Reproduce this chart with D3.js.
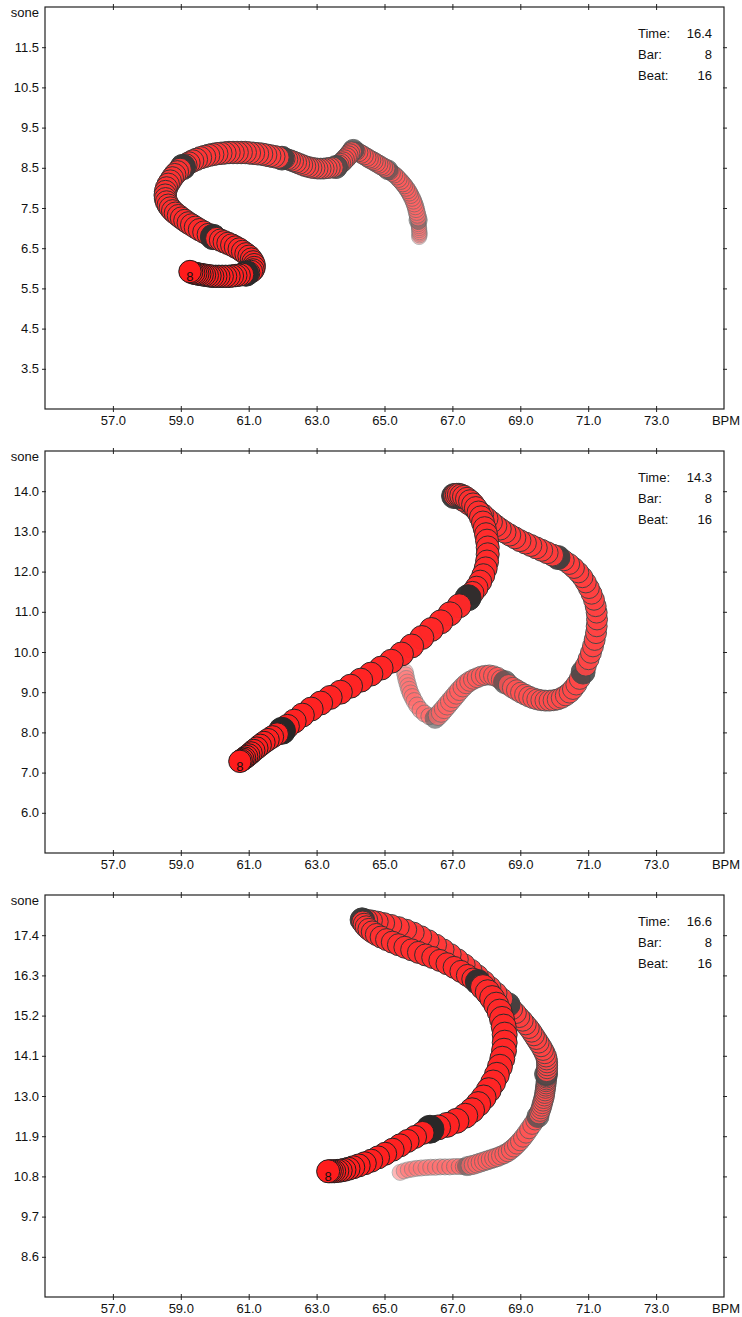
<!DOCTYPE html>
<html>
<head>
<meta charset="utf-8">
<script src="https://cdn.jsdelivr.net/npm/d3@7"></script>
<style>
  body { margin: 0; background: #fff; }
  svg text { font-family: "Liberation Sans", Arial, sans-serif; font-size: 13px; fill: #111; }
</style>
</head>
<body>
<div id="chart"></div>
<script>
// ---- data ----
const xTicks = [57, 59, 61, 63, 65, 67, 69, 71, 73];
const yTicks1 = [3.5, 4.5, 5.5, 6.5, 7.5, 8.5, 9.5, 10.5, 11.5];
const yTicks2 = [6, 7, 8, 9, 10, 11, 12, 13, 14];
const yTicks3 = [8.6, 9.7, 10.8, 11.9, 13.0, 14.1, 15.2, 16.3, 17.4];

const timeVals = ['16.4', '14.3', '16.6'];
const barVals = [8, 8, 8];
const beatVals = [16, 16, 16];

// each trail: one array of [bpm, sone] per beat, tail first; last point of a beat = beat marker
const trail1 = [
  [[66.02,6.78],[66.03,6.82],[66.03,6.86],[66.03,6.90],[66.02,6.95],[66.02,7.00],[66.01,7.05],[66.00,7.10],[66.00,7.15],[65.99,7.20]],
  [[65.99,7.26],[65.97,7.33],[65.95,7.40],[65.93,7.47],[65.91,7.54],[65.88,7.61],[65.85,7.68],[65.81,7.75],[65.77,7.82],[65.73,7.88],[65.69,7.94],[65.64,8.00],[65.59,8.06],[65.54,8.11],[65.48,8.17],[65.42,8.22],[65.36,8.28],[65.29,8.33],[65.22,8.37],[65.16,8.41],[65.10,8.45]],
  [[65.04,8.48],[64.97,8.52],[64.90,8.55],[64.83,8.59],[64.76,8.62],[64.69,8.66],[64.62,8.69],[64.55,8.72],[64.48,8.76],[64.40,8.80],[64.32,8.84],[64.24,8.88],[64.16,8.91],[64.08,8.94]],
  [[64.03,8.90],[63.98,8.85],[63.93,8.80],[63.88,8.75],[63.82,8.70],[63.77,8.65],[63.71,8.61],[63.66,8.57],[63.61,8.54],[63.57,8.52]],
  [[63.48,8.51],[63.39,8.50],[63.30,8.49],[63.21,8.48],[63.12,8.48],[63.03,8.48],[62.94,8.49],[62.85,8.50],[62.76,8.52],[62.67,8.54],[62.58,8.57],[62.49,8.60],[62.40,8.63],[62.31,8.66],[62.22,8.69],[62.14,8.71],[62.06,8.73],[61.98,8.74]],
  [[61.86,8.76],[61.74,8.78],[61.62,8.80],[61.50,8.82],[61.38,8.84],[61.26,8.85],[61.14,8.86],[61.02,8.87],[60.90,8.88],[60.78,8.88],[60.66,8.88],[60.54,8.88],[60.42,8.88],[60.30,8.87],[60.18,8.86],[60.06,8.85],[59.94,8.83],[59.82,8.81],[59.70,8.78],[59.58,8.75],[59.46,8.71],[59.35,8.67],[59.24,8.62],[59.15,8.57],[59.06,8.52]],
  [[58.98,8.46],[58.90,8.40],[58.82,8.33],[58.75,8.25],[58.69,8.17],[58.63,8.09],[58.58,8.00],[58.55,7.91],[58.54,7.82],[58.55,7.73],[58.58,7.65],[58.63,7.57],[58.69,7.50],[58.76,7.43],[58.84,7.37],[58.93,7.31],[59.02,7.25],[59.12,7.19],[59.22,7.13],[59.32,7.08],[59.43,7.02],[59.55,6.96],[59.68,6.90],[59.81,6.84],[59.95,6.78]],
  [[60.06,6.74],[60.17,6.70],[60.28,6.66],[60.39,6.62],[60.50,6.58],[60.61,6.53],[60.72,6.48],[60.82,6.42],[60.92,6.36],[61.01,6.30],[61.08,6.23],[61.13,6.16],[61.16,6.09],[61.16,6.02],[61.13,5.96],[61.08,5.92],[61.00,5.89],[60.92,5.87]],
  [[60.82,5.85],[60.72,5.83],[60.62,5.82],[60.52,5.81],[60.42,5.80],[60.32,5.80],[60.22,5.80],[60.12,5.80],[60.03,5.80],[59.94,5.80],[59.86,5.81],[59.78,5.82],[59.70,5.83],[59.63,5.84],[59.56,5.85],[59.50,5.86],[59.44,5.87],[59.38,5.88],[59.32,5.90],[59.27,5.92]]
];
const level1 = [2, 3, 4, 5, 5.5, 6.5, 6.5, 6.5, 6.5];

const trail2 = [
  [[65.60,9.50],[65.62,9.42],[65.64,9.33],[65.67,9.24],[65.70,9.15],[65.73,9.06],[65.77,8.97],[65.82,8.88],[65.88,8.78],[65.96,8.67],[66.06,8.56],[66.18,8.47],[66.32,8.40],[66.49,8.35]],
  [[66.58,8.42],[66.67,8.50],[66.76,8.59],[66.85,8.68],[66.94,8.77],[67.03,8.86],[67.12,8.95],[67.21,9.04],[67.31,9.13],[67.41,9.21],[67.51,9.27],[67.62,9.32],[67.73,9.36],[67.85,9.40],[67.97,9.42],[68.09,9.43],[68.21,9.41],[68.33,9.37],[68.44,9.31],[68.55,9.25]],
  [[68.66,9.18],[68.78,9.11],[68.90,9.05],[69.02,8.99],[69.14,8.94],[69.26,8.89],[69.38,8.85],[69.50,8.82],[69.62,8.80],[69.74,8.79],[69.86,8.79],[69.98,8.80],[70.10,8.82],[70.22,8.86],[70.34,8.92],[70.45,8.99],[70.55,9.08],[70.65,9.19],[70.75,9.33],[70.85,9.50]],
  [[70.93,9.66],[71.01,9.82],[71.08,9.98],[71.14,10.14],[71.19,10.30],[71.23,10.47],[71.25,10.64],[71.26,10.81],[71.25,10.98],[71.22,11.14],[71.17,11.30],[71.10,11.45],[71.02,11.59],[70.93,11.73],[70.83,11.86],[70.71,11.98],[70.58,12.09],[70.44,12.19],[70.28,12.28],[70.11,12.35]],
  [[69.95,12.41],[69.79,12.47],[69.63,12.53],[69.47,12.59],[69.31,12.65],[69.15,12.71],[68.99,12.77],[68.84,12.84],[68.69,12.91],[68.55,12.98],[68.41,13.06],[68.28,13.14],[68.15,13.23],[68.02,13.32],[67.89,13.42],[67.76,13.51],[67.62,13.60],[67.47,13.69],[67.32,13.77],[67.18,13.84],[67.05,13.88]],
  [[67.08,13.90],[67.13,13.91],[67.19,13.91],[67.26,13.89],[67.34,13.86],[67.43,13.81],[67.52,13.75],[67.61,13.67],[67.69,13.58],[67.77,13.47],[67.84,13.35],[67.90,13.22],[67.95,13.08],[67.99,12.93],[68.02,12.77],[68.04,12.60],[68.04,12.43],[68.02,12.25],[67.98,12.08],[67.91,11.91],[67.82,11.75],[67.71,11.60],[67.59,11.47],[67.46,11.35]],
  [[67.20,11.15],[66.93,10.95],[66.66,10.75],[66.38,10.56],[66.10,10.36],[65.80,10.15],[65.50,9.95],[65.20,9.77],[64.90,9.60],[64.60,9.45],[64.30,9.30],[64.00,9.15],[63.70,9.00],[63.40,8.87],[63.12,8.73],[62.84,8.58],[62.58,8.43],[62.34,8.28],[62.14,8.15],[61.98,8.04]],
  [[61.84,7.96],[61.70,7.89],[61.57,7.82],[61.45,7.75],[61.34,7.68],[61.24,7.61],[61.15,7.55],[61.07,7.49],[61.00,7.44],[60.94,7.40],[60.88,7.36],[60.83,7.33],[60.78,7.30],[60.74,7.28]]
];
const level2 = [3.1, 5, 5.6, 5.6, 6.25, 6.9, 7.5, 6.5];

const trail3 = [
  [[65.46,10.91],[65.58,10.95],[65.70,10.98],[65.82,11.00],[65.95,11.02],[66.08,11.03],[66.22,11.04],[66.36,11.05],[66.50,11.05],[66.64,11.06],[66.78,11.06],[66.92,11.06],[67.06,11.07],[67.20,11.07],[67.32,11.07],[67.43,11.08]],
  [[67.53,11.10],[67.63,11.12],[67.73,11.15],[67.83,11.18],[67.93,11.21],[68.03,11.24],[68.13,11.27],[68.23,11.30],[68.33,11.33],[68.43,11.37],[68.53,11.41],[68.63,11.46],[68.72,11.52],[68.81,11.59],[68.90,11.67],[68.99,11.76],[69.08,11.86],[69.17,11.97],[69.26,12.09],[69.35,12.21],[69.44,12.33],[69.52,12.44]],
  [[69.55,12.51],[69.58,12.58],[69.61,12.65],[69.63,12.72],[69.65,12.79],[69.67,12.86],[69.69,12.93],[69.71,13.00],[69.72,13.07],[69.73,13.14],[69.74,13.21],[69.75,13.27],[69.76,13.33],[69.76,13.39],[69.77,13.44],[69.77,13.49],[69.77,13.53],[69.77,13.57],[69.76,13.60]],
  [[69.78,13.68],[69.79,13.76],[69.79,13.84],[69.79,13.92],[69.78,14.00],[69.76,14.08],[69.72,14.17],[69.67,14.26],[69.61,14.36],[69.54,14.46],[69.47,14.56],[69.40,14.66],[69.33,14.76],[69.25,14.86],[69.16,14.96],[69.07,15.06],[68.97,15.16],[68.87,15.27],[68.76,15.38],[68.64,15.50]],
  [[68.47,15.66],[68.30,15.82],[68.12,15.98],[67.94,16.14],[67.75,16.30],[67.56,16.45],[67.36,16.60],[67.16,16.74],[66.95,16.88],[66.74,17.01],[66.52,17.14],[66.30,17.26],[66.08,17.37],[65.86,17.47],[65.64,17.55],[65.42,17.62],[65.20,17.68],[64.99,17.73],[64.80,17.77],[64.63,17.80],[64.49,17.82],[64.40,17.83],[64.34,17.82]],
  [[64.36,17.76],[64.40,17.70],[64.46,17.63],[64.54,17.56],[64.64,17.49],[64.76,17.42],[64.90,17.35],[65.06,17.28],[65.23,17.21],[65.41,17.14],[65.60,17.07],[65.80,17.00],[66.00,16.93],[66.21,16.86],[66.42,16.79],[66.63,16.71],[66.84,16.62],[67.05,16.52],[67.25,16.41],[67.44,16.30],[67.60,16.20],[67.75,16.12]],
  [[67.90,15.98],[68.04,15.84],[68.17,15.68],[68.29,15.50],[68.39,15.31],[68.46,15.11],[68.51,14.90],[68.54,14.68],[68.54,14.46],[68.52,14.24],[68.47,14.02],[68.40,13.80],[68.31,13.58],[68.20,13.37],[68.07,13.16],[67.92,12.96],[67.76,12.78],[67.58,12.61],[67.38,12.46],[67.12,12.32],[66.84,12.21],[66.58,12.14],[66.34,12.09]],
  [[66.12,11.99],[65.90,11.88],[65.68,11.77],[65.46,11.65],[65.24,11.53],[65.02,11.42],[64.81,11.32],[64.61,11.23],[64.42,11.16],[64.24,11.10],[64.08,11.05],[63.94,11.01],[63.82,10.98],[63.71,10.96],[63.61,10.95],[63.52,10.94],[63.45,10.94],[63.39,10.94],[63.34,10.94]]
];
const level3 = [2.5, 4.4, 5, 5.6, 5.6, 6.25, 8.1, 6.9];

// ---- layout ----
const W = 742, H = 1317;
const frame = {left: 45, right: 724, top: 7, height: 402, gap: 42};

const panels = [
  {trail: trail1, level: level1, yTicks: yTicks1},
  {trail: trail2, level: level2, yTicks: yTicks2},
  {trail: trail3, level: level3, yTicks: yTicks3}
];

const svg = d3.select('#chart').append('svg')
  .attr('width', W)
  .attr('height', H);

const x = d3.scaleLinear()
  .domain([xTicks[0] - 2, xTicks[xTicks.length - 1] + 2])
  .range([frame.left, frame.right]);

const radius = d3.scaleLinear().domain([0, 10]).range([6, 14]);

const redFill = d3.interpolateRgb('#ff8585', '#ff1c1c');
const darkFill = d3.interpolateRgb('#7c7c7c', '#242424');
const edge = d3.interpolateRgb('#8c8c8c', '#1e1e1e');
const fade = d3.scaleLinear().domain([0, 0.4, 1]).range([0.6, 0.95, 1]);
const fmt = d3.format('.1f');

function crossTicks(sel) {
  sel.select('.domain').remove();
  sel.selectAll('.tick line').attr('stroke', '#222');
  sel.attr('font-size', null).attr('font-family', null);
}

panels.forEach((p, k) => {
  const top = frame.top + k * (frame.height + frame.gap);
  const bottom = top + frame.height;
  const step = p.yTicks[1] - p.yTicks[0];
  const y = d3.scaleLinear()
    .domain([p.yTicks[0] - step, p.yTicks[p.yTicks.length - 1] + step])
    .range([bottom, top]);

  const g = svg.append('g').attr('class', 'panel');

  // x axis (bottom + top)
  g.append('g')
    .attr('transform', 'translate(0,' + bottom + ')')
    .call(d3.axisBottom(x).tickValues(xTicks).tickFormat(fmt).tickSize(3).tickPadding(4))
    .call(crossTicks)
    .call(s => s.selectAll('.tick line').attr('y1', -3).attr('y2', 3));
  g.append('g')
    .attr('transform', 'translate(0,' + top + ')')
    .call(d3.axisTop(x).tickValues(xTicks).tickFormat('').tickSize(3))
    .call(crossTicks)
    .call(s => s.selectAll('.tick line').attr('y1', -3).attr('y2', 3));

  // y axis (left + right)
  g.append('g')
    .attr('transform', 'translate(' + frame.left + ',0)')
    .call(d3.axisLeft(y).tickValues(p.yTicks).tickFormat(fmt).tickSize(3).tickPadding(3))
    .call(crossTicks)
    .call(s => s.selectAll('.tick line').attr('x1', 1).attr('x2', -3));
  g.append('g')
    .attr('transform', 'translate(' + frame.right + ',0)')
    .call(d3.axisRight(y).tickValues(p.yTicks).tickFormat('').tickSize(3))
    .call(crossTicks)
    .call(s => s.selectAll('.tick line').attr('x1', -1).attr('x2', 3));

  g.append('rect')
    .attr('x', frame.left).attr('y', top)
    .attr('width', frame.right - frame.left).attr('height', frame.height)
    .attr('fill', 'none').attr('stroke', '#222').attr('stroke-width', 1.2);

  g.append('text').attr('x', 39).attr('y', top + 10).attr('text-anchor', 'end').text('sone');
  g.append('text').attr('x', 726).attr('y', bottom + 16).attr('text-anchor', 'middle').text('BPM');

  // legend
  const leg = [['Time:', timeVals[k]], ['Bar:', barVals[k]], ['Beat:', beatVals[k]]];
  leg.forEach((row, j) => {
    const ty = top + 31 + j * 21;
    g.append('text').attr('x', 638).attr('y', ty).text(row[0]);
    g.append('text').attr('x', 712).attr('y', ty).attr('text-anchor', 'end').text(row[1]);
  });

  // trail points, oldest first so the newest sit on top
  const pts = [];
  p.trail.forEach((beat, b) => {
    beat.forEach((d, j) => {
      pts.push({bpm: d[0], sone: d[1], lev: p.level[b],
        mark: b < p.trail.length - 1 && j === beat.length - 1});
    });
  });
  const n = pts.length;
  const age = i => Math.sqrt(i / (n - 1));

  g.append('g').selectAll('circle')
    .data(pts)
    .join('circle')
    .attr('cx', d => x(d.bpm))
    .attr('cy', d => y(d.sone))
    .attr('r', d => radius(d.lev) + (d.mark ? 1.5 : 0))
    .attr('fill', (d, i) => d.mark ? darkFill(age(i)) : redFill(age(i)))
    .attr('stroke', (d, i) => d.mark ? darkFill(age(i)) : edge(age(i)))
    .attr('stroke-width', 1)
    .attr('opacity', (d, i) => fade(i / (n - 1)));

  const head = pts[n - 1];
  g.append('text')
    .attr('x', x(head.bpm))
    .attr('y', y(head.sone) + 9.5)
    .attr('text-anchor', 'middle')
    .text(barVals[k]);
});
</script>
</body>
</html>
